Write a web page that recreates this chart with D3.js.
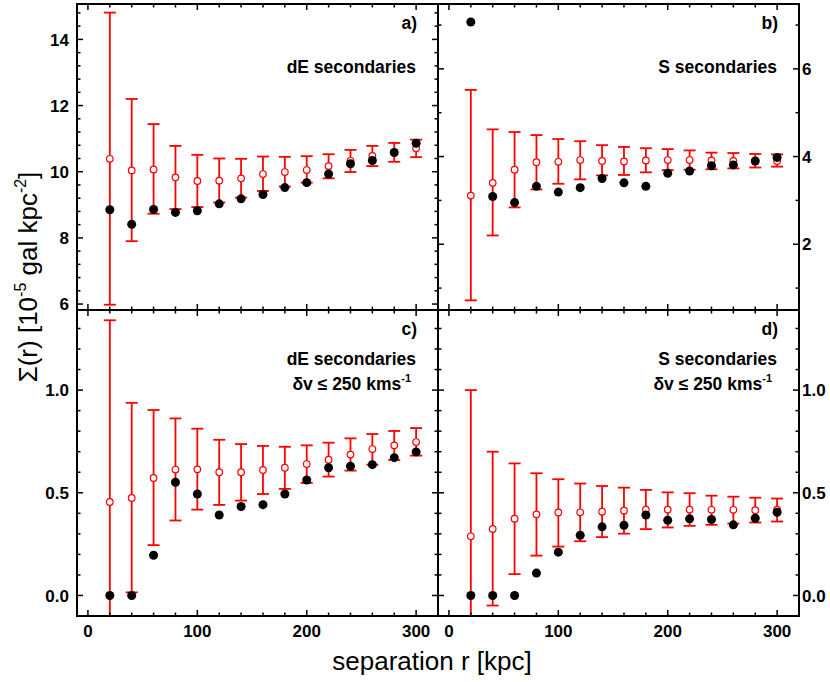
<!DOCTYPE html>
<html>
<head>
<meta charset="utf-8">
<script src="https://cdn.jsdelivr.net/npm/d3@7"></script>
<style>
  body { margin: 0; background: #fff; }
  svg { display: block; font-family: "Liberation Sans", Arial, sans-serif; }
</style>
</head>
<body>
<svg id="chart" width="830" height="682"></svg>
<script>
// separation bins [kpc]
const sep = [20, 40, 60, 80, 100, 120, 140, 160, 180, 200, 220, 240, 260, 280, 300];

// a) dE secondaries
const aObs  = [8.85, 8.41, 8.86, 8.77, 8.82, 9.03, 9.18, 9.31, 9.52, 9.67, 9.93, 10.24, 10.34, 10.58, 10.86];
const aRand = [10.39, 10.04, 10.07, 9.83, 9.72, 9.73, 9.80, 9.93, 9.99, 10.05, 10.17, 10.33, 10.48, 10.58, 10.71];
const aLo   = [5.98, 7.90, 8.73, 8.87, 8.93, 9.07, 9.22, 9.42, 9.55, 9.67, 9.80, 9.99, 10.17, 10.30, 10.44];
const aHi   = [14.81, 12.20, 11.44, 10.78, 10.51, 10.40, 10.39, 10.46, 10.45, 10.47, 10.53, 10.66, 10.78, 10.87, 10.97];

// b) S secondaries
const bObs  = [7.07, 3.09, 2.95, 3.32, 3.19, 3.29, 3.50, 3.40, 3.32, 3.62, 3.67, 3.79, 3.81, 3.90, 3.98];
const bRand = [3.11, 3.40, 3.70, 3.87, 3.88, 3.92, 3.90, 3.89, 3.91, 3.92, 3.92, 3.91, 3.90, 3.89, 3.90];
const bLo   = [0.72, 2.20, 2.84, 3.25, 3.38, 3.48, 3.57, 3.58, 3.64, 3.69, 3.70, 3.71, 3.73, 3.75, 3.77];
const bHi   = [5.52, 4.62, 4.56, 4.49, 4.40, 4.35, 4.26, 4.22, 4.19, 4.17, 4.14, 4.09, 4.08, 4.06, 4.05];

// c) dE secondaries, dv <= 250 km/s
const cObs  = [0.000, 0.000, 0.196, 0.551, 0.494, 0.392, 0.433, 0.442, 0.494, 0.562, 0.622, 0.629, 0.637, 0.671, 0.699];
const cRand = [0.455, 0.475, 0.572, 0.613, 0.614, 0.600, 0.600, 0.611, 0.622, 0.640, 0.661, 0.686, 0.713, 0.731, 0.747];
const cLo   = [-0.430, 0.015, 0.245, 0.365, 0.418, 0.441, 0.462, 0.494, 0.519, 0.548, 0.579, 0.608, 0.637, 0.660, 0.681];
const cHi   = [1.340, 0.938, 0.903, 0.862, 0.812, 0.758, 0.737, 0.728, 0.724, 0.731, 0.744, 0.765, 0.786, 0.801, 0.815];

// d) S secondaries, dv <= 250 km/s
const dObs  = [0.000, 0.000, 0.000, 0.109, 0.211, 0.293, 0.334, 0.342, 0.392, 0.366, 0.373, 0.370, 0.344, 0.376, 0.405];
const dRand = [0.288, 0.324, 0.374, 0.395, 0.404, 0.405, 0.408, 0.413, 0.418, 0.418, 0.418, 0.417, 0.417, 0.415, 0.418];
const dLo   = [-0.424, -0.049, 0.104, 0.194, 0.238, 0.264, 0.284, 0.301, 0.323, 0.331, 0.339, 0.344, 0.350, 0.355, 0.360];
const dHi   = [1.000, 0.700, 0.643, 0.595, 0.566, 0.545, 0.533, 0.525, 0.514, 0.502, 0.498, 0.486, 0.481, 0.476, 0.472];

// tick values
const xMajor = [0, 100, 200, 300];
const aMajor = [6, 8, 10, 12, 14];
const bMajor = [2, 4, 6];
const cdMajor = [0.0, 0.5, 1.0];

const svg = d3.select("#chart");
const red = "#ff0000";

// frame edges
const L = 77, M = 438, R = 799, T = 4, MID = 310, B = 616;

const xDomain = [-10, 320];
const panels = [
  { id: "a", x0: L, x1: M, y0: T, y1: MID, yDom: [5.82, 15.07], major: aMajor, minor: d3.range(6, 15.01, 0.4),
    fmt: d3.format("d"), side: "left", xLabels: false, obs: aObs, rand: aRand, lo: aLo, hi: aHi,
    lines: [["dE secondaries"]] },
  { id: "b", x0: M, x1: R, y0: T, y1: MID, yDom: [0.5, 7.48], major: bMajor, minor: [1, 3, 5, 7],
    fmt: d3.format("d"), side: "right", xLabels: false, obs: bObs, rand: bRand, lo: bLo, hi: bHi,
    lines: [["S secondaries"]] },
  { id: "c", x0: L, x1: M, y0: MID, y1: B, yDom: [-0.1, 1.39], major: cdMajor, minor: d3.range(0.1, 1.35, 0.1),
    fmt: d3.format(".1f"), side: "left", xLabels: true, obs: cObs, rand: cRand, lo: cLo, hi: cHi,
    lines: [["dE secondaries"], ["δv ≤ 250 kms", "-1"]] },
  { id: "d", x0: M, x1: R, y0: MID, y1: B, yDom: [-0.1, 1.39], major: cdMajor, minor: d3.range(0.1, 1.35, 0.1),
    fmt: d3.format(".1f"), side: "right", xLabels: true, obs: dObs, rand: dRand, lo: dLo, hi: dHi,
    lines: [["S secondaries"], ["δv ≤ 250 kms", "-1"]] }
];

const xMinor = [20, 40, 60, 80, 120, 140, 160, 180, 220, 240, 260, 280, 320];

panels.forEach(p => {
  const x = d3.scaleLinear().domain(xDomain).range([p.x0, p.x1]);
  const y = d3.scaleLinear().domain(p.yDom).range([p.y1, p.y0]);
  const g = svg.append("g");

  // clip to the panel
  g.append("clipPath").attr("id", "clip-" + p.id)
    .append("rect").attr("x", p.x0).attr("y", p.y0)
    .attr("width", p.x1 - p.x0).attr("height", p.y1 - p.y0);

  const plot = g.append("g").attr("clip-path", `url(#clip-${p.id})`);

  // error bars
  const bars = plot.selectAll(".err").data(sep).enter().append("g")
    .attr("stroke", red).attr("stroke-width", 1.8).attr("fill", "none");
  bars.append("line")
    .attr("x1", d => x(d)).attr("x2", d => x(d))
    .attr("y1", (d, i) => y(p.lo[i])).attr("y2", (d, i) => y(p.hi[i]));
  bars.append("line")
    .attr("x1", d => x(d) - 6).attr("x2", d => x(d) + 6)
    .attr("y1", (d, i) => y(p.hi[i])).attr("y2", (d, i) => y(p.hi[i]));
  bars.append("line")
    .attr("x1", d => x(d) - 6).attr("x2", d => x(d) + 6)
    .attr("y1", (d, i) => y(p.lo[i])).attr("y2", (d, i) => y(p.lo[i]));

  // random-sample mean (open circles)
  plot.selectAll(".rand").data(sep).enter().append("circle")
    .attr("cx", d => x(d)).attr("cy", (d, i) => y(p.rand[i]))
    .attr("r", 3.3).attr("fill", "#fff").attr("stroke", red).attr("stroke-width", 1.2);

  // observed (filled dots)
  plot.selectAll(".obs").data(sep).enter().append("circle")
    .attr("cx", d => x(d)).attr("cy", (d, i) => y(p.obs[i]))
    .attr("r", 4.5).attr("fill", "#000");

  // ticks on all four sides, pointing inward
  const tick = (sel, x1, y1, x2, y2) => sel.append("line")
    .attr("x1", x1).attr("y1", y1).attr("x2", x2).attr("y2", y2)
    .attr("stroke", "#000").attr("stroke-width", 1.5);
  const ax = g.append("g");
  xMajor.forEach(v => { tick(ax, x(v), p.y1, x(v), p.y1 - 6); tick(ax, x(v), p.y0, x(v), p.y0 + 6); });
  xMinor.forEach(v => { if (x(v) < p.x1 - 1) { tick(ax, x(v), p.y1, x(v), p.y1 - 3.5); tick(ax, x(v), p.y0, x(v), p.y0 + 3.5); } });
  p.major.forEach(v => { tick(ax, p.x0, y(v), p.x0 + 6, y(v)); tick(ax, p.x1, y(v), p.x1 - 6, y(v)); });
  p.minor.forEach(v => { if (p.major.some(m => Math.abs(m - v) < 1e-6)) return;
    tick(ax, p.x0, y(v), p.x0 + 3.5, y(v)); tick(ax, p.x1, y(v), p.x1 - 3.5, y(v)); });

  // y tick labels
  g.selectAll(".ylab").data(p.major).enter().append("text")
    .attr("x", p.side === "left" ? p.x0 - 8 : p.x1 + 3)
    .attr("y", d => y(d)).attr("dy", "0.36em")
    .attr("text-anchor", p.side === "left" ? "end" : "start")
    .style("font-size", "17px").style("font-weight", "bold")
    .text(p.fmt);

  // x tick labels
  if (p.xLabels) {
    g.selectAll(".xlab").data(xMajor).enter().append("text")
      .attr("x", d => x(d)).attr("y", p.y1 + 21)
      .attr("text-anchor", "middle")
      .style("font-size", "17px").style("font-weight", "bold")
      .text(d => d);
  }

  // panel letter
  g.append("text").attr("x", p.x1 - 21).attr("y", p.y0 + 25)
    .attr("text-anchor", "end").style("font-size", "17.5px").style("font-weight", "bold")
    .text(p.id + ")");

  // annotation lines
  p.lines.forEach((ln, k) => {
    const t = g.append("text")
      .attr("x", p.x1 - (k === 0 ? 22 : 27))
      .attr("y", p.y0 + (p.id === "a" || p.id === "b" ? 69 : 55) + k * 25)
      .attr("text-anchor", "end")
      .style("font-size", "17.5px").style("font-weight", "bold");
    t.append("tspan").text(ln[0]);
    if (ln[1]) t.append("tspan").attr("dy", -8).style("font-size", "11px").text(ln[1]);
  });

  // frame
  g.append("rect").attr("x", p.x0).attr("y", p.y0)
    .attr("width", p.x1 - p.x0).attr("height", p.y1 - p.y0)
    .attr("fill", "none").attr("stroke", "#000").attr("stroke-width", 2);
});

// axis titles
svg.append("text")
  .attr("x", (L + R) / 2 - 6).attr("y", 670)
  .attr("text-anchor", "middle").style("font-size", "26px")
  .text("separation r [kpc]");

const yt = svg.append("text")
  .attr("transform", "translate(37,277) rotate(-90)")
  .attr("text-anchor", "middle").style("font-size", "26px");
yt.append("tspan").text("Σ(r) [10");
yt.append("tspan").attr("dy", -11).style("font-size", "16px").text("-5");
yt.append("tspan").attr("dy", 11).text(" gal kpc");
yt.append("tspan").attr("dy", -11).style("font-size", "16px").text("-2");
yt.append("tspan").attr("dy", 11).text("]");
</script>
</body>
</html>
